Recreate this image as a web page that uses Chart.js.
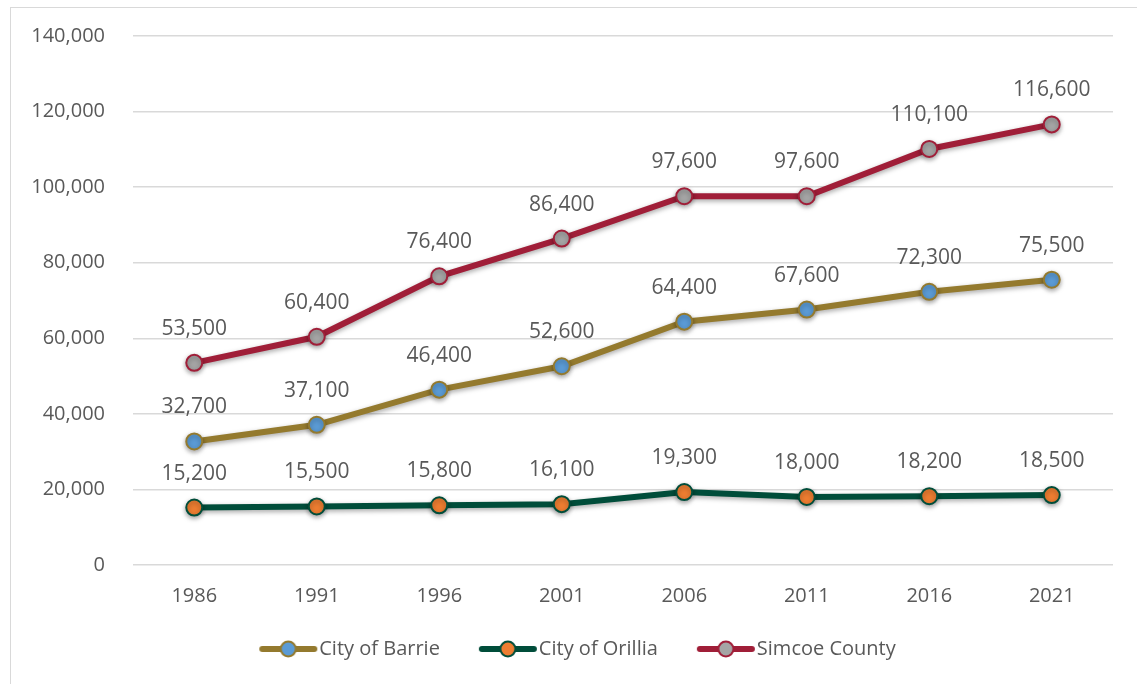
<!DOCTYPE html>
<html>
<head>
<meta charset="utf-8">
<script src="https://cdn.jsdelivr.net/npm/chart.js@4"></script>
<style>
  html, body { margin: 0; padding: 0; background: #fff; }
  #frame { position: absolute; left: 10px; top: 7px; width: 1200px; height: 700px; border: 1px solid #d9d9d9; }
  #wrap { position: absolute; left: 0; top: 0; width: 1137px; height: 684px; }
</style>
</head>
<body>
<div id="frame"></div>
<div id="wrap"><canvas id="popChart"></canvas></div>
<script>
const years = ['1986', '1991', '1996', '2001', '2006', '2011', '2016', '2021'];
const barrie = [32700, 37100, 46400, 52600, 64400, 67600, 72300, 75500];
const orillia = [15200, 15500, 15800, 16100, 19300, 18000, 18200, 18500];
const simcoe = [53500, 60400, 76400, 86400, 97600, 97600, 110100, 116600];

const fontFamily = '"Open Sans", "Noto Sans", sans-serif';
const textColor = '#595959';

// legend icon: thick line with a circle marker, pushed to the right of the box
function legendIcon(lineColor, fillColor) {
    const c = document.createElement('canvas');
    c.width = 80;
    c.height = 22;
    const g = c.getContext('2d');
    g.strokeStyle = lineColor;
    g.lineWidth = 6;
    g.lineCap = 'round';
    g.beginPath();
    g.moveTo(23, 11);
    g.lineTo(75, 11);
    g.stroke();
    g.beginPath();
    g.arc(49, 11, 7.5, 0, Math.PI * 2);
    g.fillStyle = fillColor;
    g.fill();
    g.lineWidth = 2;
    g.stroke();
    return c;
}

function makeSeries(label, values, lineColor, fillColor) {
    return {
        label: label,
        data: values,
        borderColor: lineColor,
        backgroundColor: fillColor,
        borderWidth: 6,
        pointRadius: 8,
        pointHoverRadius: 8,
        pointBorderWidth: 2,
        pointBorderColor: lineColor,
        pointBackgroundColor: fillColor,
        pointStyle: legendIcon(lineColor, fillColor),
        tension: 0,
        fill: false
    };
}

const shadowPlugin = {
    id: 'shadow',
    beforeDatasetsDraw(chart) {
        const ctx = chart.ctx;
        ctx.save();
        ctx.shadowColor = 'rgba(0,0,0,0.35)';
        ctx.shadowBlur = 5;
        ctx.shadowOffsetY = 2;
    },
    afterDatasetsDraw(chart) {
        chart.ctx.restore();
    }
};

const valueLabels = {
    id: 'valueLabels',
    afterDatasetsDraw(chart) {
        const ctx = chart.ctx;
        ctx.save();
        ctx.font = '21px ' + fontFamily;
        ctx.fillStyle = textColor;
        ctx.textAlign = 'center';
        ctx.textBaseline = 'middle';
        chart.data.datasets.forEach((ds, i) => {
            chart.getDatasetMeta(i).data.forEach((pt, j) => {
                ctx.fillText(ds.data[j].toLocaleString('en-US'), pt.x, pt.y - 34);
            });
        });
        ctx.restore();
    }
};

// the picture's circle markers are drawn by the line, not the legend icon
const markerFix = {
    id: 'markerFix',
    beforeDatasetsDraw(chart) {
        chart.data.datasets.forEach((ds, i) => {
            chart.getDatasetMeta(i).data.forEach(pt => {
                pt.options.pointStyle = 'circle';
            });
        });
    }
};

// nudge the legend a little to the right, like the original
const legendShift = {
    id: 'legendShift',
    afterLayout(chart) {
        chart.legend.left += 16;
        chart.legend.right += 16;
    }
};

new Chart(document.getElementById('popChart'), {
    type: 'line',
    data: {
        labels: years,
        datasets: [
            makeSeries('City of Barrie', barrie, '#947A2E', '#5B9BD5'),
            makeSeries('City of Orillia', orillia, '#004D3A', '#ED7D31'),
            makeSeries('Simcoe County', simcoe, '#A01E38', '#A5A5A5')
        ]
    },
    options: {
        responsive: true,
        maintainAspectRatio: false,
        animation: false,
        layout: { padding: { top: 36, right: 24, bottom: 15, left: 0 } },
        plugins: {
            legend: {
                position: 'bottom',
                labels: {
                    usePointStyle: true,
                    pointStyleWidth: 60,
                    boxHeight: 20,
                    padding: 29,
                    color: textColor,
                    font: { family: fontFamily, size: 20 }
                }
            },
            tooltip: { enabled: false }
        },
        scales: {
            x: {
                offset: true,
                afterFit(scale) { scale.height = 45; },
                grid: { display: false },
                border: { display: false },
                ticks: { color: textColor, padding: 11, font: { family: fontFamily, size: 20 } }
            },
            y: {
                min: 0,
                max: 140000,
                afterFit(scale) {
                    scale.width = 133;
                    scale.paddingTop = 0;
                    scale.paddingBottom = 0;
                },
                grid: { color: '#d9d9d9', lineWidth: 1.5, drawTicks: false },
                border: { display: false },
                ticks: {
                    stepSize: 20000,
                    padding: 28,
                    color: textColor,
                    font: { family: fontFamily, size: 20 },
                    callback: v => v.toLocaleString('en-US')
                }
            }
        }
    },
    plugins: [markerFix, shadowPlugin, valueLabels, legendShift]
});
</script>
</body>
</html>
